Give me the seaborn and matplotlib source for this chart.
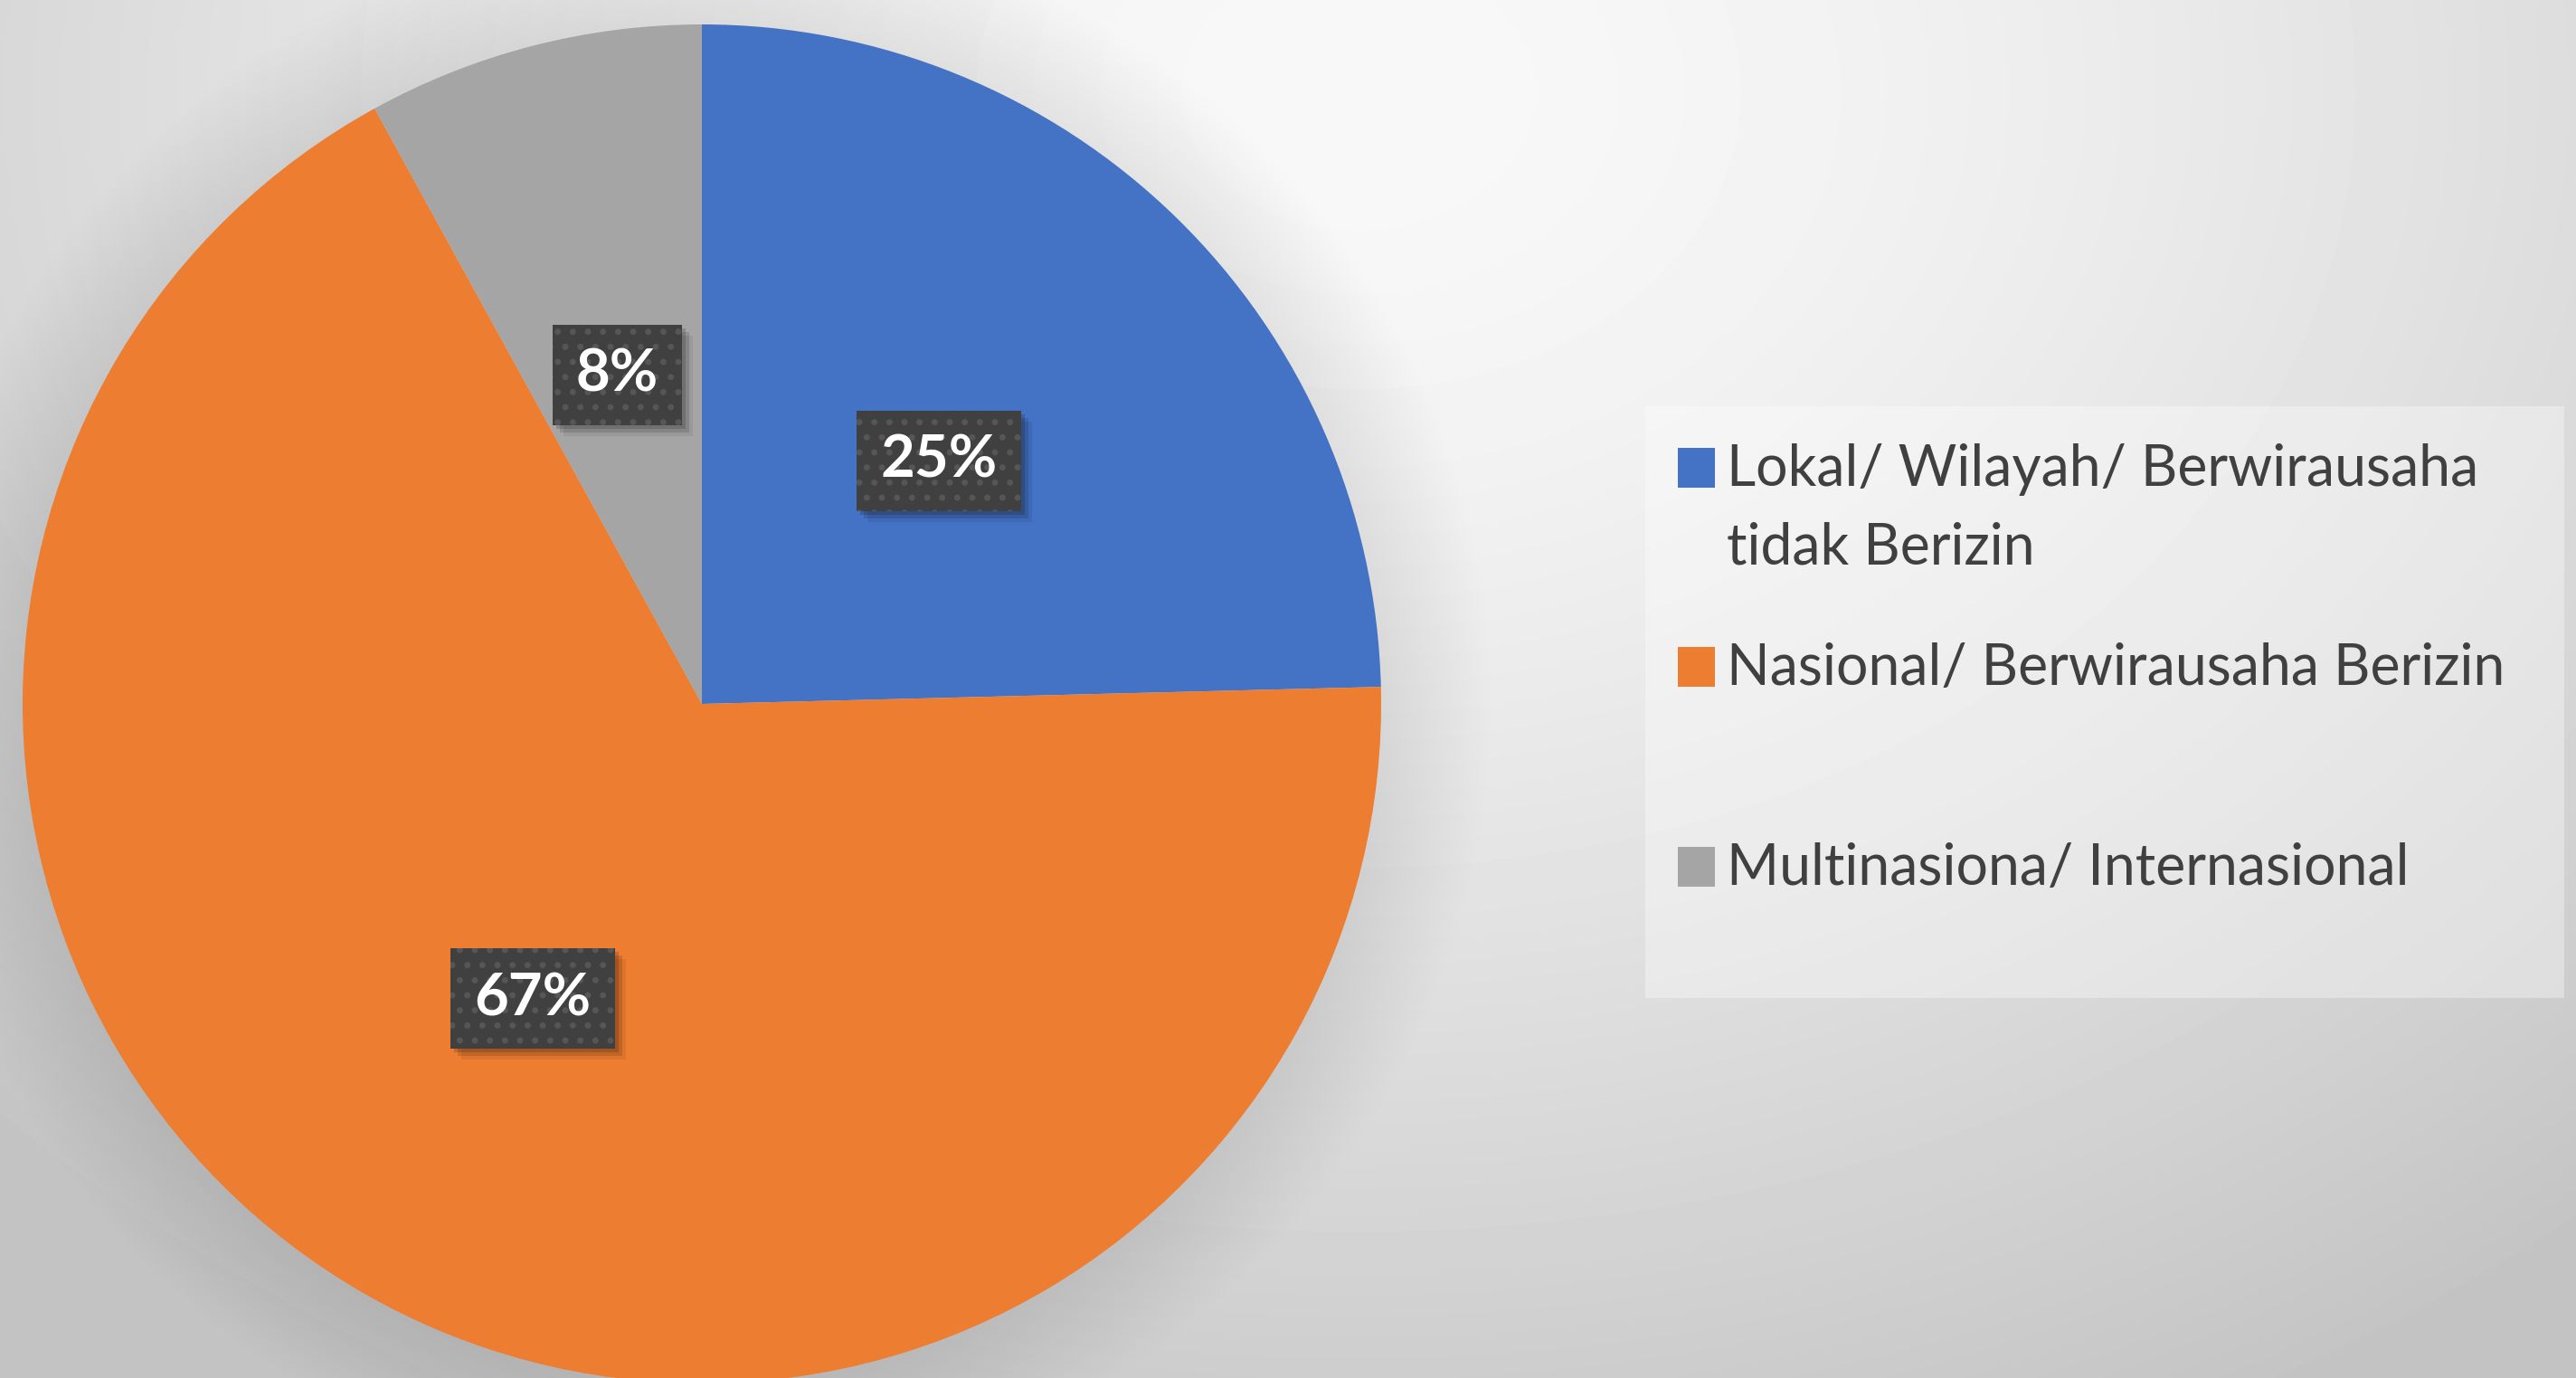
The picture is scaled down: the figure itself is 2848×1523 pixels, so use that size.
import numpy as np
import matplotlib
matplotlib.use("Agg")
import matplotlib.pyplot as plt
import matplotlib.patches as mpatches
from matplotlib.legend_handler import HandlerPatch
from matplotlib.transforms import offset_copy
import seaborn as sns

# data
categories = ["Lokal/ Wilayah/ Berwirausaha\ntidak Berizin",
              "Nasional/ Berwirausaha Berizin\n ",
              "Multinasiona/ Internasional\n "]
shares = [24.6, 67.4, 8.0]
slice_colors = ["#4472C4", "#ED7D31", "#A5A5A5"]

sns.set_style("white")
plt.rcParams["font.family"] = ["Lato", "DejaVu Sans"]
plt.rcParams["hatch.linewidth"] = 2.5

W, H = 2848, 1523
fig = plt.figure(figsize=(W / 100, H / 100), dpi=100)

# background radial gradient
bg = fig.add_axes([0, 0, 1, 1], zorder=-5)
yy, xx = np.mgrid[0:H:4, 0:W:4]
d = np.sqrt(((xx - 1500) / 900.0) ** 2 + ((yy - 100) / 700.0) ** 2)
shade = np.clip(248 - 23 * d ** 2 / (1 + 0.6 * d), 196, 250) / 255.0
bg.imshow(shade, cmap="gray", vmin=0, vmax=1, extent=[0, W, H, 0],
          aspect="auto", interpolation="bilinear")
bg.set_xlim(0, W)
bg.set_ylim(H, 0)
bg.axis("off")

# pie axes
cx, cy, r = 776, 778, 751
ax = fig.add_axes([(cx - r) / W, (H - cy - r) / H, 2 * r / W, 2 * r / H])
ax.patch.set_alpha(0)

# soft shadow around the pie
for rr in np.linspace(1.0, 1.16, 20):
    ax.add_patch(mpatches.Circle((0, 0), rr, color="black", alpha=0.0055,
                                 lw=0, zorder=0.5, clip_on=False))

wedges, texts, autotexts = ax.pie(
    shares, colors=sns.color_palette(slice_colors), startangle=90,
    counterclock=False, autopct=lambda p: f"{p:.0f}%", pctdistance=0.5,
    wedgeprops=dict(linewidth=0), textprops=dict(clip_on=False))
ax.set_xlim(-1, 1)
ax.set_ylim(-1, 1)
ax.set_aspect("equal")
ax.axis("off")
for w in wedges:
    w.set_clip_on(False)

lfs = 47
box = dict(boxstyle="square,pad=0.4", fc="#404040", ec="#565656", lw=0,
           hatch=".")
for t in autotexts:
    t.set_fontsize(lfs)
    t.set_fontweight("bold")
    t.set_color("white")
    t.set_bbox(box)
    t.set_zorder(5)
    x, y = t.get_position()
    for k, a in [(4, 0.16), (8, 0.12), (12, 0.07)]:
        tr = offset_copy(ax.transData, fig=fig, x=k, y=-k, units="dots")
        ax.text(x, y, t.get_text(), transform=tr, fontsize=lfs,
                fontweight="bold", color="none", ha="center", va="center",
                zorder=4, clip_on=False,
                bbox=dict(boxstyle="square,pad=0.4", fc="black", ec="none",
                          alpha=a, lw=0))


class TopHandler(HandlerPatch):
    def __init__(self, lift, **kw):
        super().__init__(**kw)
        self.lift = lift

    def create_artists(self, legend, orig_handle, xdescent, ydescent,
                       width, height, fontsize, trans):
        p = mpatches.Rectangle((-xdescent, -ydescent + self.lift),
                               width, height)
        self.update_prop(p, orig_handle, legend)
        p.set_linewidth(0)
        p.set_transform(trans)
        return [p]


# legend panel
fig.add_artist(mpatches.Rectangle((1819 / W, 1 - 1103 / H), 1016 / W, 654 / H,
                                  transform=fig.transFigure, fc="white",
                                  ec="none", alpha=0.35, lw=0, zorder=1))
fs = 45
handler = TopHandler(lift=47 * 0.72)
leg = fig.legend(wedges, categories, loc="upper left",
                 bbox_to_anchor=(1855 / W, 1 - 490 / H),
                 bbox_transform=fig.transFigure, frameon=False,
                 fontsize=fs, borderpad=0, borderaxespad=0,
                 handlelength=0.66, handleheight=0.7, handletextpad=0.2,
                 labelspacing=1.22, labelcolor="#404040",
                 handler_map={w: handler for w in wedges})
leg.set_zorder(3)
for t in leg.get_texts():
    t.set_linespacing(1.6)

fig.savefig("out.png", dpi=100)
